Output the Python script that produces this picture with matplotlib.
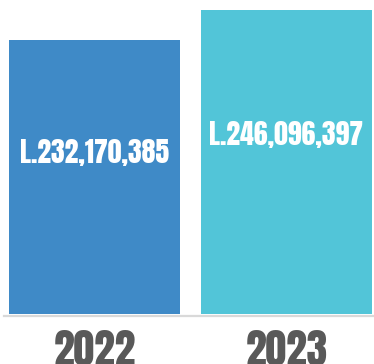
import matplotlib
matplotlib.use('Agg')
import matplotlib.pyplot as plt
from matplotlib.lines import Line2D

# Datos
anios = ['2022', '2023']
montos = [232170385, 246096397]
etiquetas = ['L.232,170,385', 'L.246,096,397']
colores = ['#3F8AC7', '#52C5D8']

FUENTE = ['Anton', 'DejaVu Sans']

W, H = 374, 364
fig = plt.figure(figsize=(W / 100, H / 100), dpi=100)
fig.patch.set_facecolor('white')

# Ejes: base de las barras en y=314 px
base_px = 314
ax = fig.add_axes([0, (H - base_px) / H, 1, base_px / H])
ax.set_facecolor('none')

pos = list(range(len(anios)))
ax.bar(pos, montos, width=0.89, color=colores, zorder=2)

# El eje no empieza en cero
y0 = 105e6
alto_px = base_px - 10
y1 = montos[1] + 10 * (montos[1] - y0) / alto_px
ax.set_ylim(y0, y1)
ax.set_xlim(-94.5 / 192, (W - 94.5) / 192)
ax.axis('off')

# Montos dentro de las barras
for x, v, txt in zip(pos, montos, etiquetas):
    ax.text(x, y0 + 0.59 * (v - y0), txt, ha='center', va='center',
            color='white', fontsize=20, family=FUENTE)

# Linea base gris
fig.add_artist(Line2D([4 / W, 1], [(H - 316) / H] * 2, color='#D9D9D9',
                      linewidth=1.6, transform=fig.transFigure))

# Años debajo
for x, anio in zip(pos, anios):
    xf = (94.5 + 192 * x) / W
    fig.text(xf, (H - 330) / H, anio, ha='center', va='top', color='#595959',
             fontsize=30, family=FUENTE)

fig.savefig('out.png', dpi=100)
